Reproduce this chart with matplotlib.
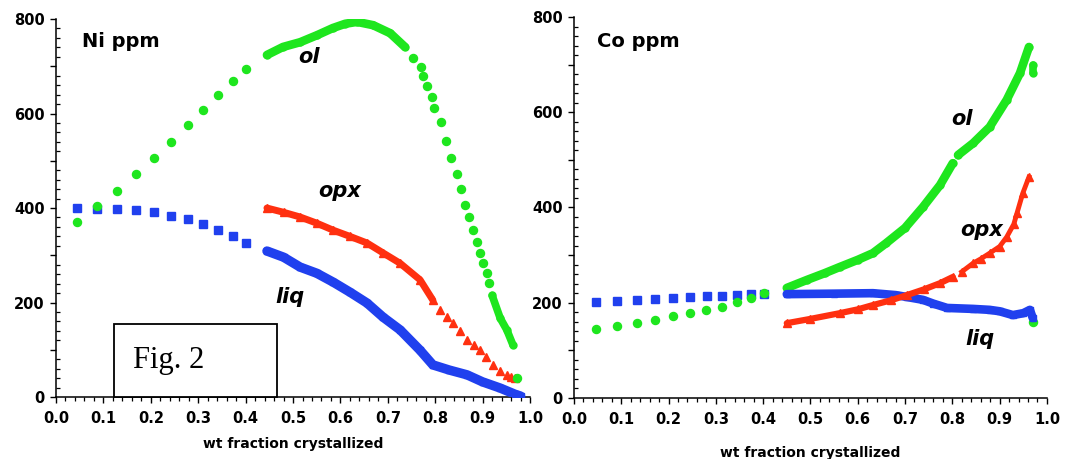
import matplotlib
matplotlib.use("Agg")
import matplotlib.pyplot as plt
from matplotlib.patches import Rectangle
from matplotlib.ticker import MultipleLocator, FuncFormatter

# ---------------- data: Ni (ppm) vs weight fraction crystallized ----------------
ni_ol_sparse_x = [0.044, 0.086, 0.129, 0.169, 0.207, 0.243, 0.278, 0.310, 0.342, 0.373, 0.401,
                  0.753, 0.770, 0.774, 0.783, 0.793, 0.797, 0.812, 0.823, 0.833, 0.846, 0.854,
                  0.863, 0.871, 0.880, 0.888, 0.895, 0.901, 0.909, 0.913, 0.973]
ni_ol_sparse_y = [370, 404, 436, 472, 506, 540, 576, 607, 639, 669, 694,
                  717, 698, 679, 658, 635, 612, 582, 542, 506, 472, 440,
                  406, 381, 353, 328, 305, 284, 262, 241, 40]
ni_ol_dense_x = [0.445, 0.479, 0.515, 0.551, 0.584, 0.610, 0.635, 0.669, 0.705, 0.736]
ni_ol_dense_y = [724, 741, 751, 766, 781, 790, 794, 787, 770, 741]
ni_ol_tail_x = [0.920, 0.937, 0.951, 0.964]
ni_ol_tail_y = [215, 167, 142, 110]

ni_liq_sparse_x = [0.044, 0.086, 0.129, 0.169, 0.207, 0.243, 0.278, 0.310, 0.342, 0.373, 0.401]
ni_liq_sparse_y = [400, 398, 398, 396, 391, 383, 377, 366, 353, 341, 326]
ni_liq_dense_x = [0.445, 0.480, 0.515, 0.550, 0.585, 0.620, 0.656, 0.690, 0.726, 0.768,
                  0.795, 0.830, 0.867, 0.900, 0.937, 0.968, 0.980]
ni_liq_dense_y = [309, 296, 275, 262, 243, 222, 199, 169, 142, 99,
                  68, 57, 47, 32, 19, 6, 2]

ni_opx_dense_x = [0.445, 0.480, 0.515, 0.550, 0.585, 0.620, 0.656, 0.690, 0.726, 0.768, 0.795]
ni_opx_dense_y = [400, 391, 381, 368, 353, 340, 326, 305, 283, 248, 205]
ni_opx_sparse_x = [0.810, 0.824, 0.838, 0.852, 0.867, 0.881, 0.895, 0.908, 0.922, 0.937,
                   0.951, 0.960, 0.968]
ni_opx_sparse_y = [184, 170, 157, 139, 121, 110, 99, 84, 68, 55, 47, 43, 40]

# ---------------- data: Co (ppm) vs weight fraction crystallized ----------------
co_ol_sparse_x = [0.047, 0.091, 0.133, 0.171, 0.209, 0.245, 0.279, 0.313, 0.345, 0.374, 0.402, 0.970]
co_ol_sparse_y = [145, 151, 157, 164, 172, 178, 185, 191, 202, 210, 220, 160]
co_ol_dense_x = [0.450, 0.493, 0.530, 0.562, 0.600, 0.632, 0.660, 0.700, 0.738, 0.774, 0.801]
co_ol_dense_y = [231, 248, 262, 275, 290, 304, 325, 357, 401, 447, 493]
co_ol_upper_x = [0.812, 0.844, 0.879, 0.915, 0.943, 0.962]
co_ol_upper_y = [510, 535, 569, 626, 682, 737]
co_ol_blob_x = [0.970, 0.970]
co_ol_blob_y = [700, 682]

co_liq_sparse_x = [0.047, 0.091, 0.133, 0.171, 0.209, 0.245, 0.281, 0.313, 0.345, 0.374, 0.402]
co_liq_sparse_y = [202, 204, 206, 208, 210, 212, 214, 214, 216, 218, 218]
co_liq_dense_x = [0.450, 0.550, 0.632, 0.680, 0.704, 0.738, 0.760, 0.789, 0.844, 0.879,
                  0.900, 0.928, 0.950, 0.964, 0.970]
co_liq_dense_y = [218, 219, 220, 216, 212, 206, 198, 189, 187, 185,
                  182, 174, 178, 185, 168]

co_opx_dense_x = [0.450, 0.500, 0.562, 0.600, 0.632, 0.670, 0.704, 0.740, 0.774, 0.801]
co_opx_dense_y = [157, 166, 178, 186, 195, 205, 216, 228, 241, 254]
co_opx_sparse_x = [0.820, 0.844, 0.860, 0.879, 0.900, 0.915, 0.930, 0.937, 0.949, 0.962]
co_opx_sparse_y = [265, 283, 292, 304, 318, 338, 365, 389, 430, 464]

GREEN = "#1ee61e"
BLUE = "#2040ee"
RED = "#ff3010"
TICK_FONT = "DejaVu Sans"

fig = plt.figure(figsize=(10.73, 4.59), dpi=100)
ax_ni = fig.add_axes([0.0522, 0.135, 0.4418, 0.8235])
ax_co = fig.add_axes([0.5349, 0.133, 0.4408, 0.830])


def style_axis(ax):
    ax.set_xlim(0, 1)
    ax.set_ylim(0, 800)
    for side in ("top", "right"):
        ax.spines[side].set_visible(False)
    for side in ("left", "bottom"):
        ax.spines[side].set_linewidth(1.1)
    ax.xaxis.set_major_locator(MultipleLocator(0.1))
    ax.xaxis.set_minor_locator(MultipleLocator(0.02))
    ax.yaxis.set_major_locator(MultipleLocator(100))
    ax.yaxis.set_minor_locator(MultipleLocator(20))
    ax.xaxis.set_major_formatter(FuncFormatter(lambda v, p: f"{v:.1f}"))
    ax.yaxis.set_major_formatter(
        FuncFormatter(lambda v, p: f"{int(round(v))}" if int(round(v)) % 200 == 0 else ""))
    ax.tick_params(axis="x", which="major", direction="out", length=4, width=1.0, pad=6)
    ax.tick_params(axis="x", which="minor", direction="out", length=3, width=0.9)
    ax.tick_params(axis="y", which="major", direction="out", length=4, width=1.0, pad=4)
    ax.tick_params(axis="y", which="minor", direction="in", length=3, width=0.9)
    for lab in ax.get_xticklabels() + ax.get_yticklabels():
        lab.set_fontfamily(TICK_FONT)
        lab.set_fontweight("bold")
        lab.set_fontsize(10.5)
    ax.set_xlabel("wt fraction crystallized", fontfamily=TICK_FONT,
                  fontweight="bold", fontsize=10)


def trace(ax, x, y, color, marker, lw=6.0, ms=5.0):
    # densely sampled segment: a thick band with the symbols riding on it
    ax.plot(x, y, color=color, lw=lw, solid_capstyle="round",
            solid_joinstyle="round", zorder=3)
    ax.plot(x, y, ls="none", marker=marker, color=color, ms=ms, mec=color, zorder=3)


def dots(ax, x, y, color, marker, ms=5.5):
    ax.plot(x, y, ls="none", marker=marker, color=color, ms=ms, mec=color, zorder=3)


# ---------------- Ni panel ----------------
style_axis(ax_ni)
ax_ni.xaxis.labelpad = 8
dots(ax_ni, ni_liq_sparse_x, ni_liq_sparse_y, BLUE, "s", ms=5.2)
trace(ax_ni, ni_liq_dense_x, ni_liq_dense_y, BLUE, "s", lw=6.8)
trace(ax_ni, ni_opx_dense_x, ni_opx_dense_y, RED, "^", lw=5.0, ms=5.5)
dots(ax_ni, ni_opx_sparse_x, ni_opx_sparse_y, RED, "^", ms=5.5)
dots(ax_ni, ni_ol_sparse_x, ni_ol_sparse_y, GREEN, "o", ms=5.8)
trace(ax_ni, ni_ol_dense_x, ni_ol_dense_y, GREEN, "o", lw=6.2)
trace(ax_ni, ni_ol_tail_x, ni_ol_tail_y, GREEN, "o", lw=5.5)

ax_ni.text(0.055, 741, "Ni ppm", fontfamily=TICK_FONT, fontweight="bold",
           fontsize=14, va="baseline", ha="left")
label_kw = dict(fontfamily=TICK_FONT, fontweight="bold", fontstyle="italic",
                fontsize=15, va="baseline", ha="left")
ax_ni.text(0.511, 707, "ol", **label_kw)
ax_ni.text(0.553, 423, "opx", **label_kw)
ax_ni.text(0.462, 199, "liq", **label_kw)

ax_ni.add_patch(Rectangle((0.122, 0), 0.344, 154, fill=True, facecolor="white",
                          edgecolor="black", lw=1.3, zorder=5, clip_on=False))
ax_ni.text(0.162, 77, "Fig. 2", fontfamily="Liberation Serif", fontsize=22,
           va="center", ha="left", zorder=6)

# ---------------- Co panel ----------------
style_axis(ax_co)
ax_co.xaxis.labelpad = 14
dots(ax_co, co_liq_sparse_x, co_liq_sparse_y, BLUE, "s", ms=5.2)
dots(ax_co, co_ol_sparse_x, co_ol_sparse_y, GREEN, "o", ms=5.8)
trace(ax_co, co_ol_dense_x, co_ol_dense_y, GREEN, "o", lw=6.2)
trace(ax_co, co_ol_upper_x, co_ol_upper_y, GREEN, "o", lw=6.2)
trace(ax_co, co_ol_blob_x, co_ol_blob_y, GREEN, "o", lw=5.5)
trace(ax_co, co_liq_dense_x, co_liq_dense_y, BLUE, "s", lw=6.2)
trace(ax_co, co_opx_dense_x, co_opx_dense_y, RED, "^", lw=4.5, ms=5.5)
dots(ax_co, co_opx_sparse_x, co_opx_sparse_y, RED, "^", ms=5.5)
ax_co.plot(co_opx_sparse_x, co_opx_sparse_y, color=RED, lw=3.5, zorder=3)

ax_co.text(0.049, 737, "Co ppm", fontfamily=TICK_FONT, fontweight="bold",
           fontsize=14, va="baseline", ha="left")
ax_co.text(0.797, 573, "ol", **label_kw)
ax_co.text(0.816, 340, "opx", **label_kw)
ax_co.text(0.827, 111, "liq", **label_kw)

fig.savefig("out.png", dpi=100)
